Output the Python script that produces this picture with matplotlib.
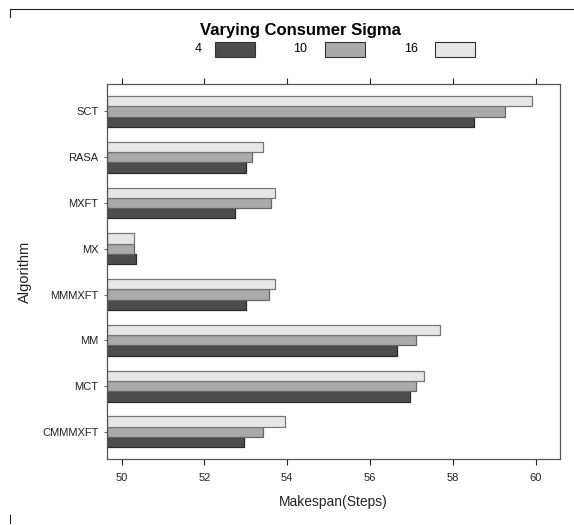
import numpy as np
import matplotlib.pyplot as plt
from matplotlib.patches import Rectangle
from matplotlib.lines import Line2D

plt.rcParams['font.family'] = ['Liberation Sans', 'DejaVu Sans']

# algorithms listed bottom to top
algorithms = ["CMMMXFT", "MCT", "MM", "MMMXFT", "MX", "MXFT", "RASA", "SCT"]
sigma_labels = ["4", "10", "16"]
sigma_4 = [52.95, 56.96, 56.65, 53.00, 50.35, 52.75, 53.00, 58.51]
sigma_10 = [53.41, 57.10, 57.10, 53.56, 50.31, 53.60, 53.16, 59.26]
sigma_16 = [53.95, 57.31, 57.70, 53.71, 50.31, 53.71, 53.41, 59.91]
x_ticks = [50, 52, 54, 56, 58, 60]

colors = ["#4d4d4d", "#aaaaaa", "#e6e6e6"]
edges = ["#2a2a2a", "#666666", "#777777"]


def main():
    fig = plt.figure(figsize=(5.74, 5.25), dpi=100)
    ax = fig.add_axes([0.1859, 0.1251, 0.7897, 0.7149])

    x_min, x_max = 49.64, 60.59
    y_pos = np.arange(1, len(algorithms) + 1)
    bar_h = 0.225
    series = [sigma_4, sigma_10, sigma_16]
    for i, vals in enumerate(series):
        offs = (i - 1) * bar_h
        widths = np.array(vals) - x_min
        ax.barh(y_pos + offs, widths, height=bar_h, left=x_min,
                color=colors[i], edgecolor=edges[i], linewidth=0.9)

    ax.set_xlim(x_min, x_max)
    ax.set_ylim(0.40, 8.60)
    ax.set_yticks(y_pos)
    ax.set_yticklabels(algorithms, fontsize=8)
    ax.set_xticks(x_ticks)
    ax.set_xticklabels([str(t) for t in x_ticks], fontsize=8)
    ax.tick_params(axis='x', direction='out', length=4.5, width=0.8,
                   top=True, labeltop=False, pad=5, colors='#222222')
    ax.tick_params(axis='y', direction='out', length=2, width=0.5,
                   pad=4, colors='#222222')
    for sp in ax.spines.values():
        sp.set_color('#555555')
        sp.set_linewidth(0.9)

    ax.set_xlabel("Makespan(Steps)", fontsize=10, labelpad=9, color='#222222')
    ax.set_ylabel("Algorithm", fontsize=10.5, labelpad=7, color='#222222')

    # key on top
    fig.text(0.523, 1 - 31 / 525, "Varying Consumer Sigma", ha='center', va='center',
             fontsize=12, fontweight='bold')
    key_y = 1 - 49.5 / 525
    label_x = [202, 307, 418]
    rect_x = [215, 325, 435]
    for lab, lx, rx, c, e in zip(sigma_labels, label_x, rect_x, colors, edges):
        fig.text(lx / 574, key_y, lab, ha='right', va='center', fontsize=9)
        fig.patches.append(Rectangle((rx / 574, 1 - 57 / 525), 40 / 574, 15 / 525,
                                     transform=fig.transFigure, facecolor=c,
                                     edgecolor='#333333', linewidth=0.8))

    # page frame fragments
    fig.lines.append(Line2D([10 / 574, 1.0], [1 - 9 / 525, 1 - 9 / 525],
                            transform=fig.transFigure, color='#222222', linewidth=0.8))
    fig.lines.append(Line2D([10 / 574, 10 / 574], [1 - 9 / 525, 1 - 17 / 525],
                            transform=fig.transFigure, color='#222222', linewidth=0.8))
    fig.lines.append(Line2D([10 / 574, 10 / 574], [1 - 515 / 525, 1 - 523 / 525],
                            transform=fig.transFigure, color='#222222', linewidth=0.8))

    fig.savefig("out.png", dpi=100)


if __name__ == '__main__':
    main()
